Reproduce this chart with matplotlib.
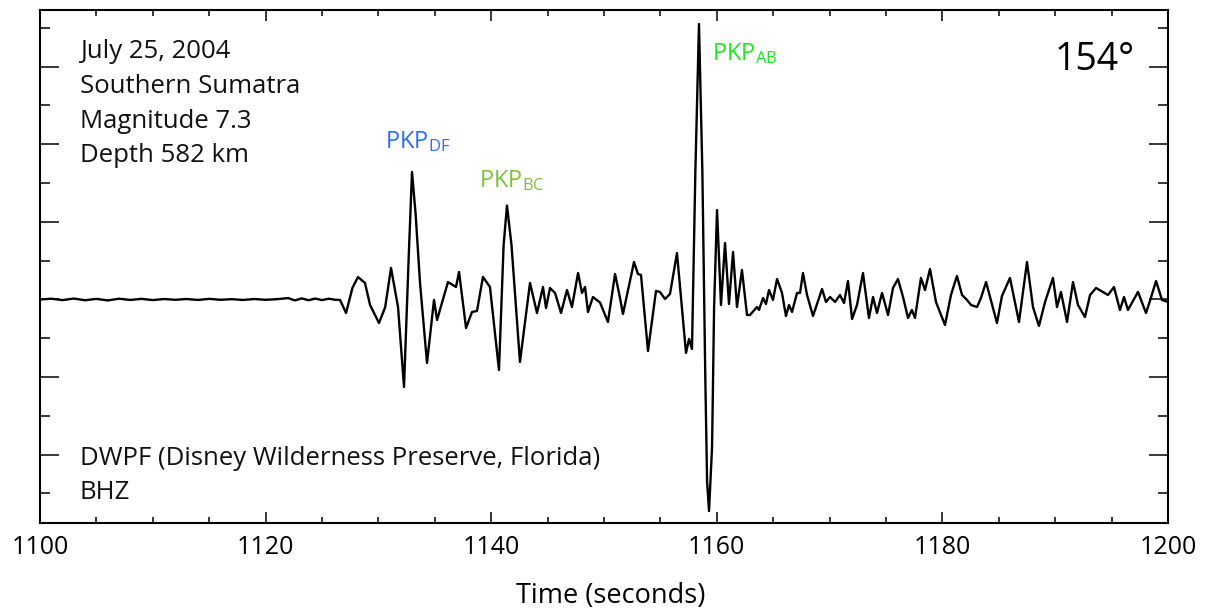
import matplotlib
matplotlib.use("Agg")
import matplotlib.pyplot as plt
from matplotlib.ticker import MultipleLocator

FONT = "Open Sans"
plt.rcParams['font.family'] = [FONT, 'DejaVu Sans']
plt.rcParams['mathtext.fontset'] = 'custom'
plt.rcParams['mathtext.rm'] = FONT
plt.rcParams['mathtext.it'] = FONT
plt.rcParams['mathtext.bf'] = FONT

# ---- data: seismogram trace (time in s, amplitude in tick units) ----
time_s = [
    1100.0, 1101.0, 1102.0, 1103.0, 1104.0, 1105.0, 1106.0, 1107.0, 1108.0, 1109.0,
    1110.0, 1111.0, 1112.0, 1113.0, 1114.0, 1115.0, 1116.0, 1117.0, 1118.0, 1119.0,
    1120.0, 1121.0, 1122.0, 1122.6, 1123.2, 1123.8, 1124.4, 1125.0, 1125.6, 1126.2,
    1126.6, 1127.13, 1127.7, 1128.19, 1128.81, 1129.26, 1130.05, 1130.6, 1131.12, 1131.74,
    1132.27, 1132.7, 1132.98, 1133.3, 1133.69, 1134.31, 1134.93, 1135.20, 1136.17, 1136.88,
    1137.15, 1137.77, 1138.30, 1138.74, 1139.27, 1139.89, 1140.69, 1141.1, 1141.40, 1141.8,
    1142.55, 1143.44, 1144.06, 1144.59, 1144.86, 1145.21, 1145.66, 1146.19, 1146.72, 1147.16,
    1147.70, 1148.05, 1148.32, 1148.58, 1149.02, 1149.65, 1150.35, 1150.98, 1151.42, 1151.68,
    1152.66, 1153.01, 1153.28, 1153.90, 1154.61, 1154.96, 1155.41, 1155.85, 1156.47, 1157.27,
    1157.54, 1157.80, 1158.10, 1158.42, 1158.72, 1158.98, 1159.14, 1159.31, 1159.58, 1159.76,
    1160.02, 1160.37, 1160.73, 1161.08, 1161.44, 1161.79, 1162.23, 1162.68, 1162.94, 1163.56,
    1163.74, 1164.10, 1164.36, 1164.63, 1164.98, 1165.34, 1165.78, 1166.13, 1166.40, 1166.67,
    1167.11, 1167.38, 1167.64, 1168.00, 1168.53, 1169.33, 1169.68, 1170.04, 1170.48, 1170.92,
    1171.28, 1171.63, 1171.99, 1172.43, 1172.96, 1173.49, 1173.85, 1174.20, 1174.65, 1175.18,
    1175.62, 1176.06, 1176.51, 1176.95, 1177.30, 1177.57, 1178.10, 1178.46, 1178.90, 1179.43,
    1180.23, 1180.76, 1181.29, 1181.74, 1182.18, 1182.54, 1183.07, 1183.42, 1183.87, 1184.84,
    1185.28, 1185.99, 1186.79, 1187.50, 1188.03, 1188.56, 1189.10, 1189.80, 1190.16, 1190.51,
    1191.05, 1191.58, 1192.02, 1192.64, 1193.09, 1193.62, 1194.68, 1195.21, 1195.74, 1196.10,
    1196.45, 1197.34, 1198.05, 1198.40, 1198.94, 1199.47, 1200.0,
]
amplitude = [
    0.000, 0.010, -0.008, 0.012, -0.010, 0.008, -0.012, 0.010, -0.006, 0.008,
    -0.008, 0.006, -0.004, 0.006, -0.006, 0.008, -0.004, 0.004, -0.006, 0.006,
    -0.004, 0.004, 0.018, -0.012, 0.014, -0.010, 0.012, -0.008, 0.010, -0.004,
    -0.006, -0.174, 0.150, 0.290, 0.213, -0.071, -0.303, -0.100, 0.406, -0.097,
    -1.128, 0.600, 1.643, 1.100, 0.213, -0.818, -0.006, -0.264, 0.225, 0.161,
    0.354, -0.367, -0.161, -0.148, 0.290, 0.161, -0.909, 0.700, 1.211, 0.700,
    -0.805, 0.213, -0.174, 0.161, -0.110, 0.148, 0.084, -0.174, 0.122, -0.097,
    0.341, 0.084, 0.161, -0.161, 0.032, -0.040, -0.290, 0.329, 0.019, -0.187,
    0.483, 0.329, 0.316, -0.664, 0.110, 0.097, 0.006, 0.071, 0.599, -0.689,
    -0.509, -0.638, 1.650, 3.550, 1.650, -1.000, -2.350, -2.726, -1.900, -0.100,
    1.153, -0.071, 0.728, -0.058, 0.612, -0.097, 0.380, -0.200, -0.200, -0.097,
    -0.135, 0.019, -0.058, 0.122, -0.006, 0.264, 0.084, -0.213, -0.071, -0.161,
    0.084, 0.084, 0.341, 0.058, -0.213, 0.135, -0.032, 0.032, -0.032, 0.058,
    -0.045, 0.238, -0.251, -0.071, 0.341, -0.238, 0.032, -0.174, 0.084, -0.200,
    0.148, 0.264, 0.032, -0.238, -0.135, -0.238, 0.277, 0.122, 0.393, -0.032,
    -0.329, 0.058, 0.303, 0.058, -0.006, -0.071, -0.097, 0.019, 0.225, -0.303,
    0.045, 0.277, -0.290, 0.483, -0.097, -0.341, -0.032, 0.277, -0.097, 0.097,
    -0.290, 0.225, -0.071, -0.226, 0.058, 0.148, 0.058, 0.161, -0.135, 0.032,
    -0.135, 0.097, -0.174, -0.019, 0.238, -0.006, -0.032,
]

x_ticks = [1100, 1120, 1140, 1160, 1180, 1200]
info_lines = ["July 25, 2004", "Southern Sumatra", "Magnitude 7.3", "Depth 582 km"]
station_lines = ["DWPF (Disney Wilderness Preserve, Florida)", "BHZ"]
phase_labels = [r"PKP$_{\mathrm{DF}}$", r"PKP$_{\mathrm{BC}}$", r"PKP$_{\mathrm{AB}}$"]
phase_colors = ["#2b6cff", "#7bc23d", "#1de81d"]
distance_label = "154°"
x_label = "Time (seconds)"

# ---- figure ----
W, H = 1205, 611
fig = plt.figure(figsize=(W / 100, H / 100), dpi=100)
ax_l, ax_r, ax_t, ax_b = 40, 1168, 9.5, 522.5
ax = fig.add_axes([ax_l / W, 1 - ax_b / H, (ax_r - ax_l) / W, (ax_b - ax_t) / H])

ax.plot(time_s, amplitude, color="black", lw=1.7, solid_joinstyle="round")

ax.set_xlim(1100, 1200)
ax.set_ylim(-2.874, 3.737)
ax.set_xticks(x_ticks)
ax.set_xticklabels([str(v) for v in x_ticks])
ax.xaxis.set_minor_locator(MultipleLocator(5))
ax.yaxis.set_major_locator(MultipleLocator(1))
ax.yaxis.set_minor_locator(MultipleLocator(0.5))
ax.tick_params(axis="x", which="both", direction="in", top=True, bottom=True,
               width=1.1, labelsize=18, pad=9, colors="black")
ax.tick_params(axis="x", which="major", length=8)
ax.tick_params(axis="x", which="minor", length=4.3)
ax.tick_params(axis="y", which="both", direction="in", left=True, right=True,
               width=1.1, labelleft=False, labelright=False)
ax.tick_params(axis="y", which="major", length=13.7)
ax.tick_params(axis="y", which="minor", length=7.2)
for s in ax.spines.values():
    s.set_linewidth(1.5)

def axfrac_x(px):
    return (px - ax_l) / (ax_r - ax_l)

def axfrac_y(py):
    return (ax_b - py) / (ax_b - ax_t)

tr = ax.transAxes
for line, base in zip(info_lines, [58.3, 92.9, 127.6, 162.5]):
    ax.text(axfrac_x(80), axfrac_y(base), line, transform=tr, fontsize=18.5,
            va="baseline", ha="left", color="#111111")
for line, base in zip(station_lines, [465, 499]):
    ax.text(axfrac_x(80), axfrac_y(base), line, transform=tr, fontsize=18.5,
            va="baseline", ha="left", color="#111111")

for lab, col, (px, py) in zip(phase_labels, phase_colors,
                              [(385, 148), (479, 187), (712, 60)]):
    ax.text(axfrac_x(px), axfrac_y(py), lab, transform=tr, fontsize=17,
            va="baseline", ha="left", color=col)

ax.text(axfrac_x(1055), axfrac_y(70), distance_label, transform=tr,
        fontsize=27, va="baseline", ha="left", color="black")

fig.text(611 / W, 1 - 603 / H, x_label, fontsize=19.5, ha="center", va="baseline")

fig.savefig("out.png", dpi=100)
